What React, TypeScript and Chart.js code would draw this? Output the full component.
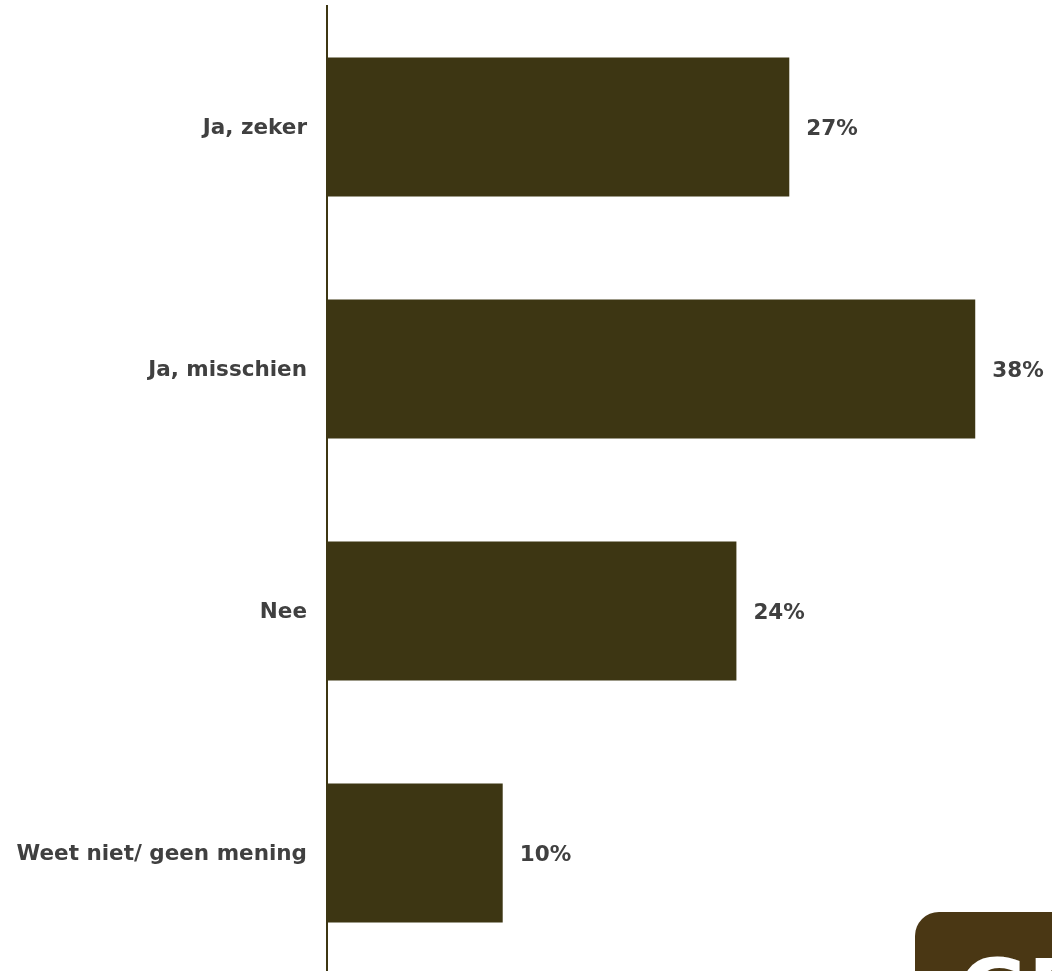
import React, { useEffect, useRef } from "react";
import { Chart, registerables } from "chart.js";

Chart.register(...registerables);

const categories = ["Ja, zeker", "Ja, misschien", "Nee", "Weet niet/ geen mening"];
const values = [27.1, 38.0, 24.0, 10.3];
const valueLabels = ["27%", "38%", "24%", "10%"];

const BAR_COLOR = "#3d3613";
const TEXT_COLOR = "#404040";
const FONT = "'DejaVu Sans', Verdana, sans-serif";

const valueLabelPlugin = {
  id: "valueLabels",
  afterDatasetsDraw(chart: any) {
    const ctx = chart.ctx;
    const meta = chart.getDatasetMeta(0);
    ctx.save();
    ctx.font = `bold 21.5px ${FONT}`;
    ctx.fillStyle = TEXT_COLOR;
    ctx.textAlign = "left";
    ctx.textBaseline = "middle";
    meta.data.forEach((bar: any, i: number) => {
      ctx.fillText(valueLabels[i], bar.x + 17, bar.y + 2.5);
    });
    ctx.restore();
  },
};

export default function App() {
  const ref = useRef<HTMLCanvasElement | null>(null);
  useEffect(() => {
    if (!ref.current) return;
    const chart = new Chart(ref.current, {
      type: "bar",
      data: {
        labels: categories,
        datasets: [
          {
            data: values,
            backgroundColor: BAR_COLOR,
            borderWidth: 0,
            barPercentage: 0.574,
            categoryPercentage: 1,
          },
        ],
      },
      options: {
        indexAxis: "y",
        animation: false,
        responsive: false,
        maintainAspectRatio: false,
        layout: { padding: { top: 6, bottom: 1, left: 0, right: 0 } },
        plugins: { legend: { display: false }, tooltip: { enabled: false } },
        scales: {
          x: {
            display: false,
            min: 0,
            max: 42.5,
          },
          y: {
            afterFit(scale: any) {
              scale.width = 327;
              scale.paddingTop = 0;
              scale.paddingBottom = 0;
            },
            grid: { display: false, drawTicks: false },
            border: { display: true, color: BAR_COLOR, width: 2 },
            ticks: {
              color: TEXT_COLOR,
              padding: 20,
              labelOffset: 1.5,
              font: { family: FONT, size: 21.5, weight: "bold" },
            },
          },
        },
      },
      plugins: [valueLabelPlugin],
    });
    return () => chart.destroy();
  }, []);

  return (
    <div style={{ position: "fixed", left: 0, top: 0, width: 1052, height: 971, overflow: "hidden", background: "#fff" }}>
      <canvas ref={ref} width={1052} height={975} style={{ position: "absolute", left: 0, top: 0, width: 1052, height: 975 }} />
      <div
        style={{
          position: "absolute",
          left: 915,
          top: 912,
          width: 200,
          height: 120,
          borderRadius: 24,
          background: "#4a3714",
          overflow: "hidden",
        }}
      >
        <div
          style={{
            position: "absolute",
            left: 44,
            top: 36,
            color: "#fff",
            fontFamily: FONT,
            fontWeight: "bold",
            fontSize: 84,
            lineHeight: 1,
          }}
        >
          GE
        </div>
      </div>
    </div>
  );
}
